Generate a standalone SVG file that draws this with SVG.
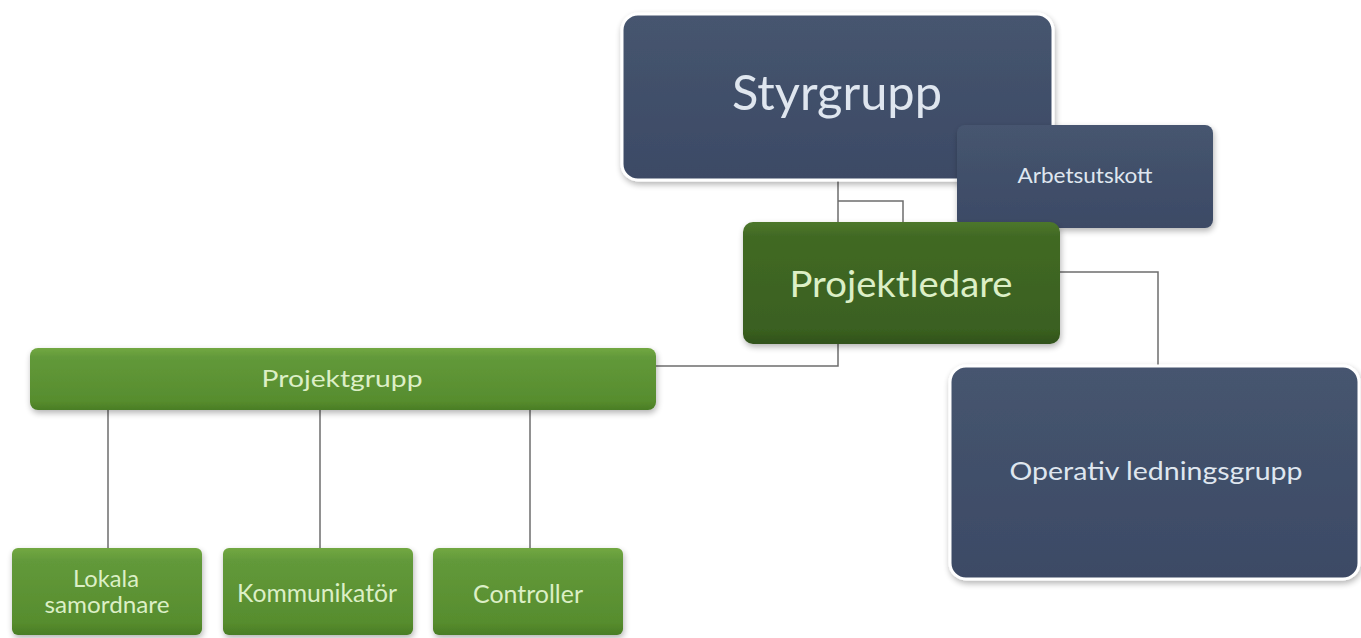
<svg xmlns="http://www.w3.org/2000/svg" width="1361" height="638" viewBox="0 0 1361 638">
<defs>
<linearGradient id="gGreen" x1="0" y1="0" x2="0" y2="1">
<stop offset="0" stop-color="#72a842"/>
<stop offset="0.15" stop-color="#62993a"/>
<stop offset="0.85" stop-color="#578d2e"/>
<stop offset="1" stop-color="#4a7d25"/>
</linearGradient>
<linearGradient id="gDark" x1="0" y1="0" x2="0" y2="1">
<stop offset="0" stop-color="#4d772b"/>
<stop offset="0.12" stop-color="#416924"/>
<stop offset="0.88" stop-color="#3a6020"/>
<stop offset="1" stop-color="#30521a"/>
</linearGradient>
<linearGradient id="gNavy" x1="0" y1="0" x2="0" y2="1">
<stop offset="0" stop-color="#46556f"/>
<stop offset="1" stop-color="#3c4a65"/>
</linearGradient>
<filter id="sh" x="-10%" y="-10%" width="120%" height="130%">
<feGaussianBlur in="SourceAlpha" stdDeviation="3"/>
<feOffset dx="1" dy="3" result="b"/>
<feComponentTransfer><feFuncA type="linear" slope="0.3"/></feComponentTransfer>
<feMerge><feMergeNode/><feMergeNode in="SourceGraphic"/></feMerge>
</filter>
</defs>
<style>
.navy{fill:url(#gNavy);}
.framed{stroke:#ffffff;stroke-width:3;}
.green{fill:url(#gGreen);}
.dark{fill:url(#gDark);}
.t{font-family:Lato,"Open Sans",sans-serif;text-anchor:middle;}
.tb{fill:#dfe6ef;}
.tg{fill:#dcefc6;}
.conn{fill:none;stroke:#6d6d6d;stroke-width:1.5;}
</style>
<rect width="1361" height="638" fill="#ffffff"/>
<g id="connectors">
<path class="conn" d="M838,180 V222 M838,201 H903 V222"/>
<path class="conn" d="M1058,272 H1158 V366"/>
<path class="conn" d="M838,344 V366 H656"/>
<path class="conn" d="M108,410 V549 M320,410 V549 M530,410 V549"/>
</g>
<g id="styrgrupp">
<rect class="navy framed" x="622" y="14" width="431" height="166" rx="16" filter="url(#sh)"/>
<text class="t tb" x="837" y="110" font-size="48" textLength="210" lengthAdjust="spacingAndGlyphs">Styrgrupp</text>
</g>
<g id="arbetsutskott">
<rect class="navy" x="957" y="125" width="256" height="103" rx="8" filter="url(#sh)"/>
<text class="t tb" x="1085" y="183" font-size="21" textLength="135" lengthAdjust="spacingAndGlyphs">Arbetsutskott</text>
</g>
<g id="projektledare">
<rect class="dark" x="743" y="222" width="317" height="122" rx="10" filter="url(#sh)"/>
<text class="t tg" x="901" y="297" font-size="37" textLength="223" lengthAdjust="spacingAndGlyphs">Projektledare</text>
</g>
<g id="projektgrupp">
<rect class="green" x="30" y="348" width="626" height="62" rx="8" filter="url(#sh)"/>
<text class="t tg" x="342" y="387" font-size="24" textLength="161" lengthAdjust="spacingAndGlyphs">Projektgrupp</text>
</g>
<g id="operativ">
<rect class="navy framed" x="950" y="366" width="409" height="213" rx="16" filter="url(#sh)"/>
<text class="t tb" x="1156" y="480" font-size="25" textLength="293" lengthAdjust="spacingAndGlyphs">Operativ ledningsgrupp</text>
</g>
<g id="lokala">
<rect class="green" x="12" y="548" width="190" height="87" rx="6" filter="url(#sh)"/>
<text class="t tg" x="106" y="587" font-size="23" textLength="66" lengthAdjust="spacingAndGlyphs">Lokala</text>
<text class="t tg" x="107" y="613" font-size="23" textLength="125" lengthAdjust="spacingAndGlyphs">samordnare</text>
</g>
<g id="kommunikator">
<rect class="green" x="223" y="548" width="190" height="87" rx="6" filter="url(#sh)"/>
<text class="t tg" x="317" y="602" font-size="25" textLength="160" lengthAdjust="spacingAndGlyphs">Kommunikatör</text>
</g>
<g id="controller">
<rect class="green" x="433" y="548" width="190" height="87" rx="6" filter="url(#sh)"/>
<text class="t tg" x="528" y="603" font-size="25" textLength="110" lengthAdjust="spacingAndGlyphs">Controller</text>
</g>
</svg>
